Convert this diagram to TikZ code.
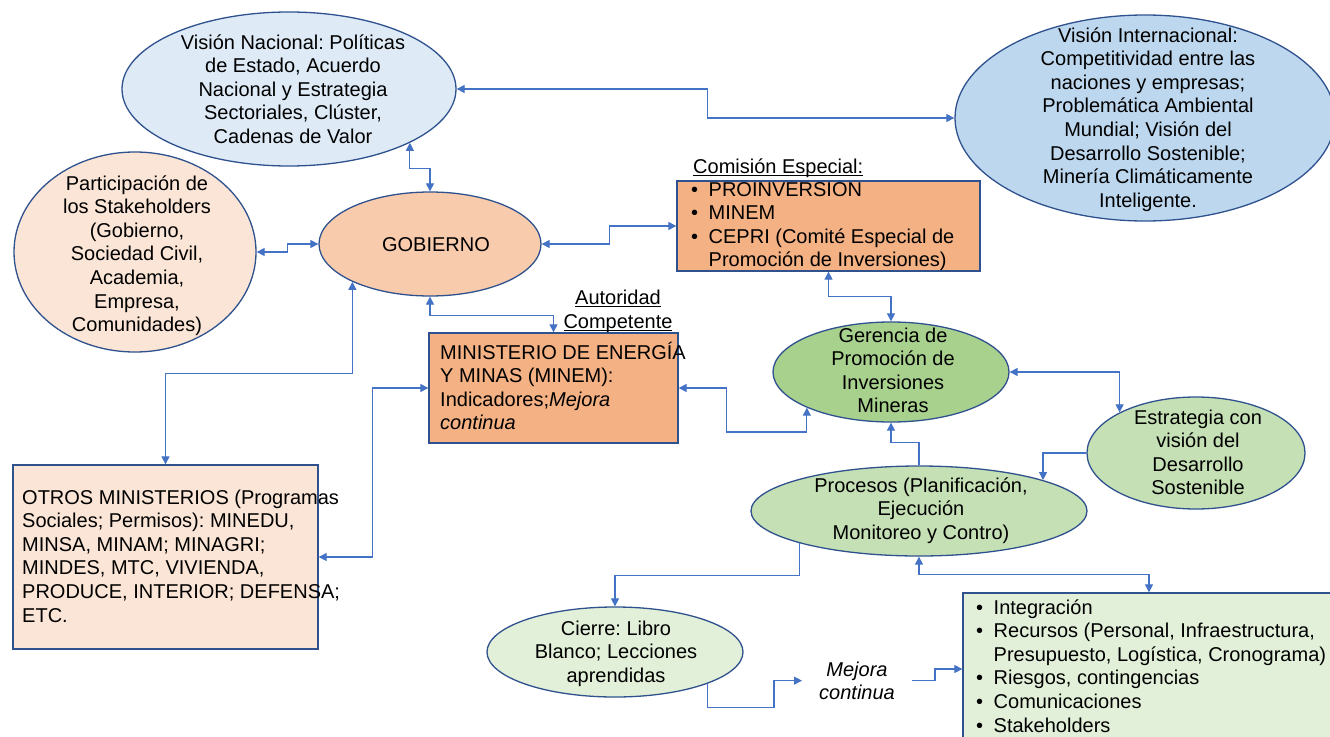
\documentclass[tikz,border=0pt]{standalone}
\usepackage{fontspec}
\setmainfont{Liberation Sans}
\frenchspacing
\usetikzlibrary{shapes.geometric,arrows.meta}
\definecolor{bord}{HTML}{2F528F}
\definecolor{lnk}{HTML}{4472C4}
\definecolor{cNac}{HTML}{DEEBF7}
\definecolor{cInt}{HTML}{BDD7EE}
\definecolor{cPart}{HTML}{FBE5D6}
\definecolor{cGob}{HTML}{F8CBAD}
\definecolor{cBox}{HTML}{F4B183}
\definecolor{cGer}{HTML}{A9D18E}
\definecolor{cEst}{HTML}{C5E0B4}
\definecolor{cCie}{HTML}{E2F0D9}
\newcommand{\bitem}{\makebox[17.5pt][l]{\textbullet}}
\newcommand{\bcont}{\hspace*{17.5pt}}
\newcommand{\ulin}[1]{\setbox0\hbox{#1}\rlap{\rule[-2.5pt]{\wd0}{1pt}}\box0}
\tikzset{
  ell/.style={ellipse, draw=bord, line width=1.3pt, inner sep=0pt},
  boxn/.style={rectangle, draw=bord, line width=1.3pt, inner sep=0pt},
  txt/.style={inner sep=0pt, font=\fontsize{20}{23.6}\selectfont},
  link/.style={draw=lnk, line width=1.1pt, -{Triangle[length=8pt,width=8pt]}},
  blink/.style={draw=lnk, line width=1.1pt, {Triangle[length=8pt,width=8pt]}-{Triangle[length=8pt,width=8pt]}},
}
\begin{document}
\begin{tikzpicture}[x=1pt,y=-1pt]
\clip (0,0) rectangle (1330,736);
\fill[white] (0,0) rectangle (1330,736);
% shapes
\node[ell, fill=cNac, minimum width=334pt, minimum height=154pt] (nac) at (289,89) {};
\node[ell, fill=cInt, minimum width=380pt, minimum height=206pt] (int) at (1145,118) {};
\node[ell, fill=cPart, minimum width=242pt, minimum height=200pt] (part) at (135,252) {};
\node[ell, fill=cGob, minimum width=222pt, minimum height=104pt] (gob) at (430,244) {};
\node[ell, fill=cGer, minimum width=236pt, minimum height=100pt] (ger) at (891,372) {};
\node[ell, fill=cEst, minimum width=218pt, minimum height=112pt] (est) at (1196,453) {};
\node[ell, fill=cEst, minimum width=336pt, minimum height=90pt] (pro) at (919,511) {};
\node[ell, fill=cCie, minimum width=256pt, minimum height=90pt] (cie) at (615,652) {};
\node[boxn, fill=cBox, minimum width=303pt, minimum height=90pt] (com) at (828.5,226) {};
\node[boxn, fill=cBox, minimum width=249pt, minimum height=110pt] (minem) at (553.5,388) {};
\node[boxn, fill=cPart, minimum width=305pt, minimum height=184pt] (oth) at (165.5,557) {};
\node[boxn, fill=cCie, minimum width=372pt, minimum height=152pt] (bul) at (1149,669) {};
% texts (anchor=base is the baseline of the last line)
\node[txt, align=center, anchor=base] (nact) at (293,143.4) {Visión Nacional: Políticas\\de Estado, Acuerdo\\Nacional y Estrategia\\Sectoriales, Clúster,\\Cadenas de Valor};
\node[txt, align=center, anchor=base] (intt) at (1148,207.2) {Visión Internacional:\\Competitividad entre las\\naciones y empresas;\\Problemática Ambiental\\Mundial; Visión del\\Desarrollo Sostenible;\\Minería Climáticamente\\Inteligente.};
\node[txt, align=center, anchor=base] (partt) at (137,331.6) {Participación de\\los Stakeholders\\(Gobierno,\\Sociedad Civil,\\Academia,\\Empresa,\\Comunidades)};
\node[txt, anchor=base] (gobt) at (436,251) {GOBIERNO};
\node[txt, align=center, anchor=base] (gert) at (893,412.8) {Gerencia de\\Promoción de\\Inversiones\\Mineras};
\node[txt, align=center, anchor=base] (estt) at (1198,494.8) {Estrategia con\\visión del\\Desarrollo\\Sostenible};
\node[txt, align=center, anchor=base] (prot) at (921,539.2) {Procesos (Planificación,\\Ejecución\\Monitoreo y Contro)};
\node[txt, align=center, anchor=base] (ciet) at (616,682.2) {Cierre: Libro\\Blanco; Lecciones\\aprendidas};
\node[txt, anchor=base west] (comh) at (693,173) {\ulin{Comisión Especial:}};
\node[txt, align=left, anchor=base west] (comt) at (691,266.8) {\bitem PROINVERSION\\\bitem MINEM\\\bitem CEPRI (Comité Especial de\\\bcont Promoción de Inversiones)};
\node[txt, align=left, anchor=base west] (mint) at (440,429.8) {MINISTERIO DE ENERGÍA\\Y MINAS (MINEM):\\Indicadores;\textit{Mejora}\\\textit{continua}};
\node[txt, align=center, anchor=base, font=\fontsize{20}{24.5}\selectfont] (autt) at (618,328.5) {\ulin{Autoridad}\\\ulin{Competente}};
\node[txt, align=left, anchor=base west] (otht) at (22,622) {OTROS MINISTERIOS (Programas\\Sociales; Permisos): MINEDU,\\MINSA, MINAM; MINAGRI;\\MINDES, MTC, VIVIENDA,\\PRODUCE, INTERIOR; DEFENSA;\\ETC.};
\node[txt, align=center, anchor=base, inner xsep=17pt, font=\fontsize{20}{23.6}\selectfont\itshape] (mej) at (857,699.6) {Mejora\\continua};
\node[txt, align=left, anchor=base west] (bult) at (976,732) {\bitem Integración\\\bitem Recursos (Personal, Infraestructura,\\\bcont Presupuesto, Logística, Cronograma)\\\bitem Riesgos, contingencias\\\bitem Comunicaciones\\\bitem Stakeholders};
% connectors
\draw[blink] (nac.east) -- ++(251,0) |- (int.west);
\draw[blink] (nac.-24.4) -- ++(0,26) -| (gob.north);
\draw[blink] (part.east) -- ++(31,0) |- (gob.west);
\draw[blink] (gob.east) -- ++(68,0) |- (com.west);
\draw[blink] (gob.south) -- ++(0,19) -| (minem.north);
\draw[blink] (gob.206.6) -- ++(0,92) -| (oth.north);
\draw[blink] (minem.west) -- ++(-56,0) |- (oth.east);
\draw[blink] (com.south) -- ++(0,25) -| (ger.north);
\draw[blink] (minem.east) -- ++(48,0) |- (ger.203.15 |- 0,432) -- (ger.203.15);
\draw[blink] (ger.east) -| (est.152.8);
\draw[link] (est.west) -| (pro.14.7);
\draw[link] (pro.north) -- ++(0,-23) -| (ger.south);
\draw[link] (pro.195) -- ++(0,32) -| (cie.north);
\draw[link] (cie.-19.2) -- ++(0,24) -| (mej.west -| 774,0) -- (mej.west);
\draw[link] (mej.east) -- ++(23,0) |- (bul.west);
\draw[blink] (pro.south) -- ++(0,18) -| (bul.north);
\end{tikzpicture}
\end{document}
